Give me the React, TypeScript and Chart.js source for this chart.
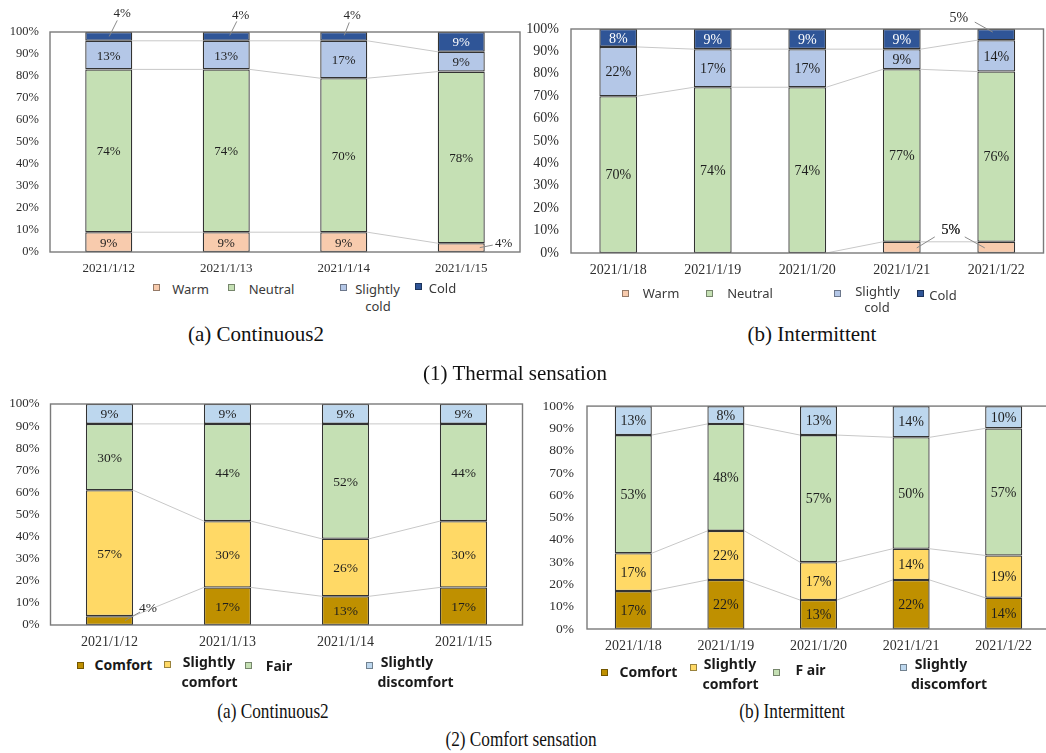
import React, { useEffect, useRef } from "react";
import { Chart, registerables } from "chart.js";

Chart.register(...registerables);

// ---------- data ----------
const thermalSeries = ["Warm", "Neutral", "Slightly cold", "Cold"];
const comfortSeries = ["Comfort", "Slightly comfort", "Fair", "Slightly discomfort"];

const datesContinuous = ["2021/1/12", "2021/1/13", "2021/1/14", "2021/1/15"];
const datesIntermittent = ["2021/1/18", "2021/1/19", "2021/1/20", "2021/1/21", "2021/1/22"];

const yTickValues = [0, 10, 20, 30, 40, 50, 60, 70, 80, 90, 100];

// (1)(a) Thermal sensation, Continuous2
const thermalContWarm = [9, 9, 9, 4];
const thermalContNeutral = [74, 74, 70, 78];
const thermalContSlightlyCold = [13, 13, 17, 9];
const thermalContCold = [4, 4, 4, 9];

// (1)(b) Thermal sensation, Intermittent
const thermalIntWarm = [0, 0, 0, 5, 5];
const thermalIntNeutral = [70, 74, 74, 77, 76];
const thermalIntSlightlyCold = [22, 17, 17, 9, 14];
const thermalIntCold = [8, 9, 9, 9, 5];

// (2)(a) Comfort sensation, Continuous2
const comfortContComfort = [4, 17, 13, 17];
const comfortContSlightlyComfort = [57, 30, 26, 30];
const comfortContFair = [30, 44, 52, 44];
const comfortContSlightlyDiscomfort = [9, 9, 9, 9];

// (2)(b) Comfort sensation, Intermittent
const comfortIntComfort = [17, 22, 13, 22, 14];
const comfortIntSlightlyComfort = [17, 22, 17, 14, 19];
const comfortIntFair = [53, 48, 57, 50, 57];
const comfortIntSlightlyDiscomfort = [13, 8, 13, 14, 10];

// legend texts (as printed)
const thermalLegendLines = [["Warm"], ["Neutral"], ["Slightly", "cold"], ["Cold"]];
const comfortLegendLinesA = [["Comfort"], ["Slightly", "comfort"], ["Fair"], ["Slightly", "discomfort"]];
const comfortLegendLinesB = [["Comfort"], ["Slightly", "comfort"], ["F air"], ["Slightly", "discomfort"]];

// ---------- styles ----------
const thermalColors = ["#F8CBAD", "#C5E0B4", "#B4C7E7", "#2F5597"];
const comfortColors = ["#BF9000", "#FFD966", "#C5E0B4", "#BDD7EE"];
const SERIF = "'Liberation Serif', 'Times New Roman', serif";
const SANS = "'Noto Sans', 'Open Sans', sans-serif";

function darker(hex: string, f = 0.6) {
  const n = parseInt(hex.slice(1), 16);
  const r = Math.round(((n >> 16) & 255) * f);
  const g = Math.round(((n >> 8) & 255) * f);
  const b = Math.round((n & 255) * f);
  return `rgb(${r},${g},${b})`;
}

type Callout = { ds: number; i: number; lx: number; ly: number; sx: number; sy: number; ex: number; ey: number };
type LegendPos = { m: [number, number]; lines: [number, number][] };

type Panel = {
  key: string;
  canvas: { left: number; top: number; width: number; height: number };
  plot: { left: number; top: number; right: number; bottom: number };
  categories: string[];
  series: string[];
  values: number[][];
  colors: string[];
  whiteLabelDs: number;
  yFont: number;
  xFont: number;
  labelFont: number;
  yPad: number;
  xPad: number;
  callouts: Callout[];
  legendLines: string[][];
  legendPos: LegendPos[];
  legendFont: number;
  legendBold: boolean;
  legendLineH: number;
};

const panels: Panel[] = [
  {
    key: "a1",
    canvas: { left: 0, top: 0, width: 522, height: 280 },
    plot: { left: 50, top: 32, right: 520, bottom: 252 },
    categories: datesContinuous,
    series: thermalSeries,
    values: [thermalContWarm, thermalContNeutral, thermalContSlightlyCold, thermalContCold],
    colors: thermalColors,
    whiteLabelDs: 3,
    yFont: 12.5,
    xFont: 13,
    labelFont: 13,
    yPad: 11,
    xPad: 9,
    callouts: [
      { ds: 3, i: 0, lx: 13.5, ly: -23, sx: -5, sy: 7, ex: 0.5, ey: 0 },
      { ds: 3, i: 1, lx: 14.5, ly: -21, sx: -4, sy: 6, ex: 3.5, ey: -1 },
      { ds: 3, i: 2, lx: 8.5, ly: -21, sx: -3, sy: 7, ex: 0.5, ey: -1 },
      { ds: 0, i: 3, lx: 42.5, ly: -4.5, sx: -11, sy: 2, ex: 18.5, ey: 0 },
    ],
    legendLines: thermalLegendLines,
    legendPos: [
      { m: [156, 287], lines: [[190.5, 289]] },
      { m: [231, 287], lines: [[271.5, 289]] },
      { m: [343, 287], lines: [[377.5, 289], [378, 306]] },
      { m: [418, 286], lines: [[442.5, 288]] },
    ],
    legendFont: 13,
    legendBold: false,
    legendLineH: 17,
  },
  {
    key: "b1",
    canvas: { left: 520, top: 0, width: 526, height: 280 },
    plot: { left: 571, top: 29, right: 1043.5, bottom: 253 },
    categories: datesIntermittent,
    series: thermalSeries,
    values: [thermalIntWarm, thermalIntNeutral, thermalIntSlightlyCold, thermalIntCold],
    colors: thermalColors,
    whiteLabelDs: 3,
    yFont: 14,
    xFont: 14,
    labelFont: 14,
    yPad: 12,
    xPad: 9,
    callouts: [
      { ds: 3, i: 4, lx: -37.5, ly: -16.5, sx: 16, sy: 4, ex: -3.5, ey: -2.5 },
      { ds: 0, i: 3, lx: 49, ly: -17.5, sx: -16, sy: 7, ex: 15, ey: 0.5 },
      { ds: 0, i: 4, lx: -45.5, ly: -17.5, sx: 14, sy: 7, ex: -11.5, ey: 0.5 },
    ],
    legendLines: thermalLegendLines,
    legendPos: [
      { m: [625, 293], lines: [[661, 293]] },
      { m: [709, 293], lines: [[750, 293]] },
      { m: [837, 293], lines: [[877.5, 291], [877, 307]] },
      { m: [920, 293], lines: [[943, 295]] },
    ],
    legendFont: 13,
    legendBold: false,
    legendLineH: 17,
  },
  {
    key: "a2",
    canvas: { left: 0, top: 385, width: 524, height: 270 },
    plot: { left: 50.5, top: 404, right: 522.5, bottom: 625 },
    categories: datesContinuous,
    series: comfortSeries,
    values: [comfortContComfort, comfortContSlightlyComfort, comfortContFair, comfortContSlightlyDiscomfort],
    colors: comfortColors,
    whiteLabelDs: -1,
    yFont: 13,
    xFont: 14,
    labelFont: 13.5,
    yPad: 11,
    xPad: 9,
    callouts: [{ ds: 0, i: 0, lx: 38.5, ly: -12.5, sx: -8, sy: 4, ex: 15.5, ey: 0 }],
    legendLines: comfortLegendLinesA,
    legendPos: [
      { m: [80, 665], lines: [[123.5, 665]] },
      { m: [167, 664], lines: [[209, 662], [209.5, 682]] },
      { m: [248, 665], lines: [[279, 666]] },
      { m: [369, 665], lines: [[407, 662], [415.5, 682]] },
    ],
    legendFont: 14,
    legendBold: true,
    legendLineH: 20,
  },
  {
    key: "b2",
    canvas: { left: 520, top: 385, width: 530, height: 275 },
    plot: { left: 587, top: 402, right: 1050, bottom: 629 },
    categories: datesIntermittent,
    series: comfortSeries,
    values: [comfortIntComfort, comfortIntSlightlyComfort, comfortIntFair, comfortIntSlightlyDiscomfort],
    colors: comfortColors,
    whiteLabelDs: -1,
    yFont: 13.5,
    xFont: 14,
    labelFont: 14,
    yPad: 13,
    xPad: 9,
    callouts: [],
    legendLines: comfortLegendLinesB,
    legendPos: [
      { m: [604, 672], lines: [[648.5, 672]] },
      { m: [693, 667], lines: [[730, 664], [730.5, 684]] },
      { m: [776, 672], lines: [[810.5, 670]] },
      { m: [903, 667], lines: [[941, 664], [949, 684]] },
    ],
    legendFont: 14,
    legendBold: true,
    legendLineH: 20,
  },
];

const captions = [
  { text: "(a) Continuous2", cx: 256, cy: 335, size: 21, sx: 1 },
  { text: "(b) Intermittent", cx: 812, cy: 335, size: 21, sx: 1 },
  { text: "(1) Thermal sensation", cx: 515, cy: 374, size: 21, sx: 1 },
  { text: "(a) Continuous2", cx: 273, cy: 712, size: 21, sx: 0.82 },
  { text: "(b) Intermittent", cx: 792, cy: 712, size: 21, sx: 0.82 },
  { text: "(2) Comfort sensation", cx: 521, cy: 740, size: 21, sx: 0.82 },
];

// ---------- plugins ----------
function makePlugin(p: Panel) {
  return {
    id: "decor_" + p.key,
    beforeDatasetsDraw(chart: any) {
      const ctx = chart.ctx;
      const n = chart.data.datasets.length;
      ctx.save();
      ctx.strokeStyle = "#c8c8c8";
      ctx.lineWidth = 1;
      for (let d = 0; d < n - 1; d++) {
        const meta = chart.getDatasetMeta(d);
        for (let i = 0; i < meta.data.length - 1; i++) {
          const a = meta.data[i].getProps(["x", "y", "width"], true);
          const b = meta.data[i + 1].getProps(["x", "y", "width"], true);
          ctx.beginPath();
          ctx.moveTo(a.x + a.width / 2, a.y);
          ctx.lineTo(b.x - b.width / 2, b.y);
          ctx.stroke();
        }
      }
      ctx.restore();
    },
    afterDatasetsDraw(chart: any) {
      const ctx = chart.ctx;
      const ca = chart.chartArea;
      ctx.save();
      ctx.strokeStyle = "#7a7a7a";
      ctx.lineWidth = 1.4;
      ctx.strokeRect(ca.left, ca.top, ca.right - ca.left, ca.bottom - ca.top);
      ctx.restore();
    },
    afterDraw(chart: any) {
      const ctx = chart.ctx;
      ctx.save();
      ctx.font = `${p.labelFont}px ${SERIF}`;
      ctx.textAlign = "center";
      ctx.textBaseline = "middle";
      chart.data.datasets.forEach((ds: any, d: number) => {
        const meta = chart.getDatasetMeta(d);
        meta.data.forEach((el: any, i: number) => {
          const v = ds.data[i];
          if (!v) return;
          const pr = el.getProps(["x", "y", "base"], true);
          const cy = (pr.y + pr.base) / 2;
          const co = p.callouts.find((c) => c.ds === d && c.i === i);
          if (co) {
            const lx = pr.x + co.lx;
            const ly = cy + co.ly;
            ctx.strokeStyle = "#8a8a8a";
            ctx.lineWidth = 1;
            ctx.beginPath();
            ctx.moveTo(lx + co.sx, ly + co.sy);
            ctx.lineTo(pr.x + co.ex, cy + co.ey);
            ctx.stroke();
            ctx.fillStyle = "#2a2a2a";
            ctx.fillText(v + "%", lx, ly);
          } else {
            ctx.fillStyle = d === p.whiteLabelDs ? "#ffffff" : "#1e1e1e";
            ctx.fillText(v + "%", pr.x, cy + 1);
          }
        });
      });
      ctx.restore();
    },
  };
}

function PanelChart({ p }: { p: Panel }) {
  const ref = useRef<HTMLCanvasElement | null>(null);
  useEffect(() => {
    if (!ref.current) return;
    const yW = p.plot.left - p.canvas.left;
    const xH = p.canvas.top + p.canvas.height - p.plot.bottom;
    const padTop = p.plot.top - p.canvas.top;
    const padRight = p.canvas.left + p.canvas.width - p.plot.right;
    const chart = new Chart(ref.current, {
      type: "bar",
      data: {
        labels: p.categories,
        datasets: p.values.map((vals, d) => ({
          label: p.series[d],
          data: vals,
          backgroundColor: p.colors[d],
          borderColor: "#333333",
          borderWidth: 1.3,
          borderSkipped: false,
          barPercentage: 0.4,
          categoryPercentage: 1,
        })),
      },
      options: {
        responsive: false,
        maintainAspectRatio: false,
        animation: false,
        layout: { padding: { top: padTop, right: padRight, left: 0, bottom: 0 } },
        plugins: { legend: { display: false }, tooltip: { enabled: false }, title: { display: false } },
        scales: {
          x: {
            stacked: true,
            grid: { display: false, drawTicks: false },
            border: { display: false },
            ticks: {
              color: "#2e2e2e",
              font: { family: SERIF, size: p.xFont },
              padding: p.xPad,
              maxRotation: 0,
              autoSkip: false,
            },
            afterFit: (s: any) => {
              s.height = xH;
            },
          },
          y: {
            stacked: true,
            min: 0,
            max: 100,
            afterBuildTicks: (s: any) => {
              s.ticks = yTickValues.map((v) => ({ value: v }));
            },
            grid: { display: false, drawTicks: false },
            border: { display: false },
            ticks: {
              color: "#2e2e2e",
              font: { family: SERIF, size: p.yFont },
              padding: p.yPad,
              callback: (v: any) => v + "%",
            },
            afterFit: (s: any) => {
              s.width = yW;
            },
          },
        },
      },
      plugins: [makePlugin(p)],
    } as any);
    return () => chart.destroy();
  }, [p]);
  return (
    <canvas
      ref={ref}
      width={p.canvas.width}
      height={p.canvas.height}
      style={{
        position: "absolute",
        left: p.canvas.left,
        top: p.canvas.top,
        width: p.canvas.width,
        height: p.canvas.height,
      }}
    />
  );
}

function Legend({ p }: { p: Panel }) {
  return (
    <>
      {p.legendPos.map((lp, k) => (
        <React.Fragment key={k}>
          <div
            style={{
              position: "absolute",
              left: lp.m[0] - 3.5,
              top: lp.m[1] - 3.5,
              width: 5,
              height: 5,
              background: p.colors[k],
              border: `1px solid ${darker(p.colors[k])}`,
            }}
          />
          {p.legendLines[k].map((t, j) => (
            <div
              key={j}
              style={{
                position: "absolute",
                left: lp.lines[j][0],
                top: lp.lines[j][1] - p.legendLineH / 2,
                transform: "translateX(-50%)",
                whiteSpace: "nowrap",
                fontFamily: SANS,
                fontSize: p.legendFont,
                fontWeight: p.legendBold ? 700 : 400,
                lineHeight: p.legendLineH + "px",
                color: p.legendBold ? "#1a1a1a" : "#3a3a3a",
              }}
            >
              {t}
            </div>
          ))}
        </React.Fragment>
      ))}
    </>
  );
}

export default function App() {
  return (
    <div
      style={{
        position: "absolute",
        left: 0,
        top: 0,
        width: 1046,
        height: 753,
        overflow: "hidden",
        background: "#ffffff",
      }}
    >
      {panels.map((p) => (
        <PanelChart key={p.key} p={p} />
      ))}
      {panels.map((p) => (
        <Legend key={"l" + p.key} p={p} />
      ))}
      {captions.map((c, k) => (
        <div
          key={k}
          style={{
            position: "absolute",
            left: c.cx,
            top: c.cy - c.size * 0.6,
            transform: `translateX(-50%) scaleX(${c.sx})`,
            whiteSpace: "nowrap",
            fontFamily: SERIF,
            fontSize: c.size,
            lineHeight: c.size * 1.2 + "px",
            color: "#111",
          }}
        >
          {c.text}
        </div>
      ))}
    </div>
  );
}
